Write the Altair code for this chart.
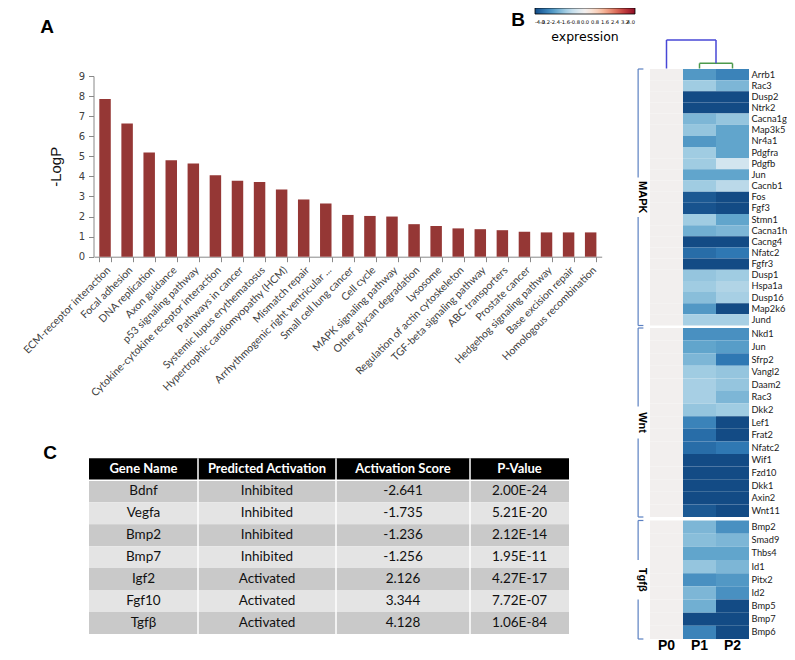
import altair as alt
import pandas as pd

# ---------------- Panel A : pathway enrichment ----------------
pathways = [
    "ECM-receptor interaction", "Focal adhesion", "DNA replication", "Axon guidance",
    "p53 signaling pathway", "Cytokine-cytokine receptor interaction", "Pathways in cancer",
    "Systemic lupus erythematosus", "Hypertrophic cardiomyopathy (HCM)", "Mismatch repair",
    "Arrhythmogenic right ventricular ...", "Small cell lung cancer", "Cell cycle",
    "MAPK signaling pathway", "Other glycan degradation", "Lysosome",
    "Regulation of actin cytoskeleton", "TGF-beta signaling pathway", "ABC transporters",
    "Prostate cancer", "Hedgehog signaling pathway", "Base excision repair",
    "Homologous recombination",
]
neg_log_p = [7.86, 6.63, 5.19, 4.80, 4.64, 4.06, 3.78, 3.72, 3.35, 2.85, 2.65, 2.08, 2.03,
             2.00, 1.62, 1.53, 1.41, 1.37, 1.32, 1.24, 1.21, 1.21, 1.21]
y_ticks = [0, 1, 2, 3, 4, 5, 6, 7, 8, 9]

# ---------------- Panel B : heatmap ----------------
heat_samples = ["P0", "P1", "P2"]

mapk_genes = ["Arrb1", "Rac3", "Dusp2", "Ntrk2", "Cacna1g", "Map3k5", "Nr4a1", "Pdgfra", "Pdgfb",
              "Jun", "Cacnb1", "Fos", "Fgf3", "Stmn1", "Cacna1h", "Cacng4", "Nfatc2", "Fgfr3",
              "Dusp1", "Hspa1a", "Dusp16", "Map2k6", "Jund"]
mapk_p0 = [0.0, 0.0, 0.0, 0.0, 0.0, 0.0, 0.0, 0.0, 0.0, 0.0, 0.0, 0.0, 0.0, 0.0, 0.0, 0.0, 0.0,
           0.0, 0.0, 0.0, 0.0, 0.0, 0.0]
mapk_p1 = [-2.6, -1.55, -4.0, -4.0, -2.0, -1.7, -2.6, -1.55, -1.55, -2.35, -1.55, -3.75, -3.85,
           -1.55, -2.15, -4.0, -3.4, -4.0, -1.7, -1.55, -1.85, -2.6, -1.45]
mapk_p2 = [-3.0, -2.0, -4.0, -4.0, -1.7, -2.35, -2.35, -2.35, -0.8, -2.35, -1.15, -4.0, -4.0,
           -2.35, -2.0, -4.0, -3.2, -4.0, -1.55, -1.3, -1.45, -4.0, -1.45]

wnt_genes = ["Nkd1", "Jun", "Sfrp2", "Vangl2", "Daam2", "Rac3", "Dkk2", "Lef1", "Frat2", "Nfatc2",
             "Wif1", "Fzd10", "Dkk1", "Axin2", "Wnt11"]
wnt_p0 = [0.0, 0.0, 0.0, 0.0, 0.0, 0.0, 0.0, 0.0, 0.0, 0.0, 0.0, 0.0, 0.0, 0.0, 0.0]
wnt_p1 = [-2.75, -2.35, -2.0, -1.55, -1.45, -1.45, -1.7, -3.0, -3.4, -3.4, -4.0, -4.0, -4.0, -4.0,
          -3.75]
wnt_p2 = [-2.75, -2.5, -3.2, -1.7, -1.7, -2.0, -1.55, -4.0, -4.0, -3.2, -4.0, -4.0, -4.0, -4.0,
          -4.0]

tgf_genes = ["Bmp2", "Smad9", "Thbs4", "Id1", "Pitx2", "Id2", "Bmp5", "Bmp7", "Bmp6"]
tgf_p0 = [0.0, 0.0, 0.0, 0.0, 0.0, 0.0, 0.0, 0.0, 0.0]
tgf_p1 = [-2.0, -1.85, -2.35, -1.7, -2.75, -2.0, -2.15, -4.0, -3.0]
tgf_p2 = [-2.75, -2.0, -2.35, -2.0, -2.6, -2.75, -4.0, -4.0, -4.0]

legend_ticks = [-4.0, -3.2, -2.4, -1.6, -0.8, 0.0, 0.8, 1.6, 2.4, 3.2, 4.0]

# hierarchical clustering of the samples (left child, right child, merge height)
dendro_left = ["P1", "P0"]
dendro_right = ["P2", "P1+P2"]
dendro_height = [0.18, 1.0]

# ---------------- Panel C : upstream regulators ----------------
table_columns = ["Gene Name", "Predicted Activation", "Activation Score", "P-Value"]
table_genes = ["Bdnf", "Vegfa", "Bmp2", "Bmp7", "Igf2", "Fgf10", "Tgfβ"]
table_activation = ["Inhibited", "Inhibited", "Inhibited", "Inhibited", "Activated", "Activated",
                    "Activated"]
table_scores = ["-2.641", "-1.735", "-1.236", "-1.256", "2.126", "3.344", "4.128"]
table_pvalues = ["2.00E-24", "5.21E-20", "2.12E-14", "1.95E-11", "4.27E-17", "7.72E-07",
                 "1.06E-84"]

# ---------------- layout (page pixels, converted to plot coordinates) ----------------
W, H = 779, 644
M = 8


def p(v):
    return v - M


BAR_X0, BAR_X1 = 94, 601.7
BAR_Y0, BAR_Y9 = 256.7, 76
AXIS_X = 93.5

HX0, HX1 = 650, 749
GROUP_SPANS = {"MAPK": (69, 325.5), "Wnt": (328, 517), "Tgfβ": (520.5, 639)}
BRACKET_X, STUB_X, GLABEL_X = -0.36, -0.2, -0.25
DENDRO_BASE, DENDRO_TOP = 68.5, 40
DENDRO_COLORS = ["#4c9a4c", "#4747d6"]
CBAR_X0, CBAR_X1 = 535, 635

TABLE_EDGES = [89, 198, 336, 470, 569]
TABLE_TOP, TABLE_BOTTOM = 458.3, 634

SANS = "Liberation Sans"
GENE_FONT = "Lato"

# ---------------- Panel A chart ----------------
bar_df = pd.DataFrame({"pathway": pathways, "logp": neg_log_p})
bars = alt.Chart(bar_df).mark_bar(color="#953735").encode(
    x=alt.X(
        "pathway:N", sort=pathways, title=None,
        scale=alt.Scale(range=[p(BAR_X0), p(BAR_X1)], paddingInner=0.48, paddingOuter=0.24),
        axis=alt.Axis(orient="bottom", offset=p(BAR_Y0) - H, labelAngle=-45, labelFont="Lato",
                      labelFontSize=10.5, labelColor="#404040", labelLimit=400, labelOverlap=False,
                      labelPadding=3, domainColor="#888888", tickColor="#888888", tickSize=5,
                      tickBand="extent", grid=False),
    ),
    y=alt.Y(
        "logp:Q",
        scale=alt.Scale(domain=[0, 9], range=[p(BAR_Y0), p(BAR_Y9)], nice=False, zero=True),
        axis=alt.Axis(orient="left", offset=-p(AXIS_X), values=y_ticks, title="-LogP",
                      titleFont=SANS, titleFontSize=15, titleFontWeight="normal",
                      titleColor="#111111", titlePadding=15, labelFont="DejaVu Sans",
                      labelFontSize=10, labelColor="#404040", labelPadding=4,
                      domainColor="#888888", tickColor="#888888", tickSize=5, grid=False),
    ),
)

# ---------------- Panel C chart ----------------
cells = []
for ci, name in enumerate(table_columns):
    cells.append({"row": 0, "col": ci, "text": name, "kind": "head"})
for ri in range(len(table_genes)):
    row_vals = [table_genes[ri], table_activation[ri], table_scores[ri], table_pvalues[ri]]
    for ci, val in enumerate(row_vals):
        cells.append({"row": ri + 1, "col": ci, "text": val,
                      "kind": "dark" if ri % 2 == 0 else "light"})
table_df = pd.DataFrame(cells)
n_rows = len(table_genes) + 1
tx = alt.Scale(domain=list(range(len(table_columns) + 1)), range=[p(e) for e in TABLE_EDGES],
               nice=False, zero=False)
ty = alt.Scale(domain=[0, n_rows], range=[p(TABLE_TOP), p(TABLE_BOTTOM)], nice=False, zero=False)

tbase = alt.Chart(table_df).transform_calculate(
    col2="datum.col + 1", row2="datum.row + 1", colm="datum.col + 0.5", rowm="datum.row + 0.5")
t_rects = tbase.mark_rect().encode(
    x=alt.X("col:Q", scale=tx, axis=None), x2="col2:Q",
    y=alt.Y("row:Q", scale=ty, axis=None), y2="row2:Q",
    fill=alt.Fill("kind:N", scale=alt.Scale(domain=["head", "dark", "light"],
                                            range=["#000000", "#c9c9c9", "#e4e4e4"]), legend=None),
)
t_head = tbase.transform_filter("datum.row == 0").mark_text(
    font="Lato", fontSize=13, fontWeight="bold", color="white").encode(
    x=alt.X("colm:Q", scale=tx, axis=None), y=alt.Y("rowm:Q", scale=ty, axis=None), text="text:N")
t_body = tbase.transform_filter("datum.row > 0").mark_text(
    font="Lato", fontSize=13.5, color="#111111").encode(
    x=alt.X("colm:Q", scale=tx, axis=None), y=alt.Y("rowm:Q", scale=ty, axis=None), text="text:N")

sep_df = pd.DataFrame({"edge": list(range(1, len(table_columns)))})
t_vsep = alt.Chart(sep_df).mark_rule(color="white", strokeWidth=1.5).encode(
    x=alt.X("edge:Q", scale=tx, axis=None),
    y=alt.YDatum(0, type="quantitative", scale=ty, axis=None),
    y2=alt.Y2Datum(n_rows))
t_hsep = alt.Chart(pd.DataFrame({"r": [1]})).mark_rule(color="white", strokeWidth=1.5).encode(
    y=alt.Y("r:Q", scale=ty, axis=None),
    x=alt.XDatum(0, type="quantitative", scale=tx, axis=None),
    x2=alt.X2Datum(len(table_columns)))
table = alt.layer(t_rects, t_vsep, t_hsep, t_head, t_body)

# ---------------- Panel B chart ----------------
heat_scale = alt.Scale(domain=[-4, 4], scheme="redblue", reverse=True)
heat_legend = alt.Legend(
    type="gradient", orient="none", legendX=p(CBAR_X0), legendY=p(8), direction="horizontal",
    title="expression", titleOrient="bottom", titleAnchor="middle", titleFont="DejaVu Sans",
    titleFontSize=12.5, titleFontWeight="normal", titleColor="black", titlePadding=6,
    gradientLength=CBAR_X1 - CBAR_X0, gradientThickness=6, gradientStrokeColor="black",
    gradientStrokeWidth=0.8, values=legend_ticks,
    labelExpr="(datum.value < 0 ? '-' : '') + format(abs(datum.value), '.1f')",
    labelFontSize=5.2, labelFont="DejaVu Sans", labelColor="black", labelOverlap=False,
    labelOffset=6)
hx = alt.Scale(domain=[0, 3], range=[p(HX0), p(HX1)], nice=False, zero=False)


def heat_group(label, genes, v0, v1, v2, show_samples):
    n = len(genes)
    top, bottom = GROUP_SPANS[label]
    ys = alt.Scale(domain=[0, n], range=[p(top), p(bottom)], nice=False, zero=False)
    recs = []
    for i in range(n):
        for c, vals in enumerate((v0, v1, v2)):
            recs.append({"i": i, "c": c, "v": vals[i]})
    df = pd.DataFrame(recs)
    cells_ch = alt.Chart(df).transform_calculate(c2="datum.c + 1", i2="datum.i + 1").mark_rect(
    ).encode(
        x=alt.X("c:Q", scale=hx, axis=None), x2="c2:Q",
        y=alt.Y("i:Q", scale=ys, axis=None), y2="i2:Q",
        color=alt.Color("v:Q", scale=heat_scale, legend=heat_legend),
    )
    lab_df = pd.DataFrame({"i": list(range(n)), "gene": genes})
    labels = alt.Chart(lab_df).transform_calculate(ym="datum.i + 0.5").mark_text(
        align="left", dx=2.5, font=GENE_FONT, fontSize=9.3, color="#1a1a1a").encode(
        x=alt.XDatum(3, type="quantitative", scale=hx, axis=None),
        y=alt.Y("ym:Q", scale=ys, axis=None), text="gene:N")

    # bracket split around the group name
    row_px = (bottom - top) / n
    gap = (0.36 * 11 * len(label) + 4) / row_px
    mid = n / 2
    br = pd.DataFrame({
        "x1": [BRACKET_X, BRACKET_X, BRACKET_X, BRACKET_X],
        "x2": [BRACKET_X, BRACKET_X, STUB_X, STUB_X],
        "y1": [0, mid + gap, 0, n],
        "y2": [mid - gap, n, 0, n],
    })
    bracket = alt.Chart(br).mark_rule(color="#5b80c2", strokeWidth=1.2).encode(
        x=alt.X("x1:Q", scale=hx, axis=None), x2="x2:Q",
        y=alt.Y("y1:Q", scale=ys, axis=None), y2="y2:Q")
    gname = alt.Chart(pd.DataFrame({"g": [label]})).mark_text(
        angle=90, font=SANS, fontSize=11, fontWeight="bold", color="black").encode(
        x=alt.XDatum(GLABEL_X, type="quantitative", scale=hx, axis=None),
        y=alt.YDatum(mid, type="quantitative", scale=ys, axis=None), text="g:N")
    layers = [cells_ch, labels, bracket, gname]
    if show_samples:
        s_df = pd.DataFrame({"s": heat_samples, "c": [k + 0.5 for k in range(len(heat_samples))]})
        samp = alt.Chart(s_df).mark_text(font=SANS, fontSize=14, fontWeight="bold",
                                         baseline="alphabetic", dy=11, color="black").encode(
            x=alt.X("c:Q", scale=hx, axis=None),
            y=alt.YDatum(n, type="quantitative", scale=ys, axis=None), text="s:N")
        layers.append(samp)
    return alt.layer(*layers)


g_mapk = heat_group("MAPK", mapk_genes, mapk_p0, mapk_p1, mapk_p2, False)
g_wnt = heat_group("Wnt", wnt_genes, wnt_p0, wnt_p1, wnt_p2, False)
g_tgf = heat_group("Tgfβ", tgf_genes, tgf_p0, tgf_p1, tgf_p2, True)

# dendrogram segments computed from the clustering
node_x = {s: k + 0.5 for k, s in enumerate(heat_samples)}
node_h = {s: 0.0 for s in heat_samples}
dendro_layers = []
dy_scale = alt.Scale(domain=[0, 1], range=[p(DENDRO_BASE), p(DENDRO_TOP)], nice=False, zero=False)
for k, (lft, rgt, h) in enumerate(zip(dendro_left, dendro_right, dendro_height)):
    xl, xr = node_x[lft], node_x[rgt]
    seg = pd.DataFrame({
        "x1": [xl, xr, xl], "x2": [xl, xr, xr],
        "y1": [node_h[lft], node_h[rgt], h], "y2": [h, h, h],
    })
    node_x[lft + "+" + rgt] = (xl + xr) / 2
    node_h[lft + "+" + rgt] = h
    dendro_layers.append(alt.Chart(seg).mark_rule(color=DENDRO_COLORS[k], strokeWidth=1.5).encode(
        x=alt.X("x1:Q", scale=hx, axis=None), x2="x2:Q",
        y=alt.Y("y1:Q", scale=dy_scale, axis=None), y2="y2:Q"))
dendro = alt.layer(*dendro_layers)

# ---------------- panel letters ----------------
dummy = pd.DataFrame({"a": [0]})


def letter(t, x, y):
    return alt.Chart(dummy).mark_text(text=t, font=SANS, fontSize=19, fontWeight="bold",
                                      color="black").encode(x=alt.value(p(x)), y=alt.value(p(y)))


chart = alt.layer(
    bars, table, g_mapk, g_wnt, g_tgf, dendro,
    letter("A", 47, 27), letter("B", 518, 20), letter("C", 50, 453),
).resolve_scale(x="independent", y="independent").properties(
    width=W, height=H, padding=0, autosize=alt.AutoSizeParams(type="none"),
).configure_view(strokeWidth=0)

chart.save("out.html", embed_options={"renderer": "svg", "actions": False})
